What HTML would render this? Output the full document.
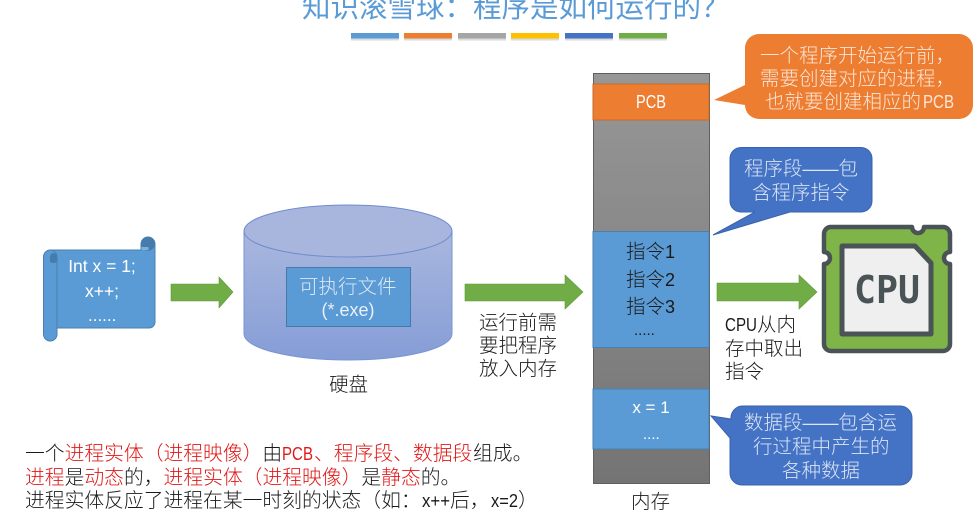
<!DOCTYPE html>
<html><head><meta charset="utf-8">
<style>
html,body{margin:0;padding:0;background:#fff;width:979px;height:519px;overflow:hidden}
svg{display:block}
text{font-family:"Liberation Sans","Noto Sans CJK SC",sans-serif;font-weight:300;text-spacing-trim:space-all;font-kerning:none}
.w{fill:#fff}.k{fill:#1a1a1a}.r{fill:#e01818}
</style></head><body>
<svg width="979" height="519" viewBox="0 0 979 519" xmlns="http://www.w3.org/2000/svg">
<defs>
<linearGradient id="cyl" x1="0" y1="0" x2="0" y2="1"><stop offset="0" stop-color="#a9b7de"/><stop offset="1" stop-color="#859dd6"/></linearGradient>
<linearGradient id="mem" x1="0" y1="0" x2="0" y2="1"><stop offset="0" stop-color="#979797"/><stop offset="1" stop-color="#747474"/></linearGradient>
</defs>
<text x="302" y="17" font-size="28.500" fill="#5b9bd5" style="font-weight:400">知识滚雪球：程序是如何运行的？</text>
<g>
<rect x="351" y="34.500" width="48" height="6" fill="#ccc" opacity=".7"/><rect x="404" y="34.500" width="48" height="6" fill="#ccc" opacity=".7"/><rect x="458" y="34.500" width="48" height="6" fill="#ccc" opacity=".7"/><rect x="511" y="34.500" width="48" height="6" fill="#ccc" opacity=".7"/><rect x="565" y="34.500" width="48" height="6" fill="#ccc" opacity=".7"/><rect x="619" y="34.500" width="48" height="6" fill="#ccc" opacity=".7"/>
<rect x="351" y="33" width="48" height="5.500" fill="#5b9bd5"/><rect x="404" y="33" width="48" height="5.500" fill="#ed7d31"/><rect x="458" y="33" width="48" height="5.500" fill="#a5a5a5"/><rect x="511" y="33" width="48" height="5.500" fill="#ffc000"/><rect x="565" y="33" width="48" height="5.500" fill="#4472c4"/><rect x="619" y="33" width="48" height="5.500" fill="#70ad47"/>
</g>
<!-- scroll -->
<path d="M50 250 H141 V244 a7 7 0 0 1 14 0 V322 a6 6 0 0 1 -6 6 H50 Z" fill="#5b9bd5" stroke="#4a80b0" stroke-width="1"/>
<rect x="43.500" y="250" width="13.500" height="91" rx="6.750" fill="#5b9bd5" stroke="#4a80b0" stroke-width="1"/>
<circle cx="148" cy="244" r="6.800" fill="#457cab"/>
<rect x="141.500" y="247" width="7" height="3" fill="#7fb0dc"/>
<path d="M50 257 a3.500 4 0 0 1 7 0 V262 a6 5 0 0 1 -7 0 Z" fill="#457cab"/>
<text x="102" y="272" text-anchor="middle" font-size="17.500" class="w">Int x = 1;</text>
<text x="102" y="297" text-anchor="middle" font-size="17.500" class="w">x++;</text>
<text x="88" y="321" font-size="17" class="w">......</text>
<!-- arrows -->
<polygon points="171,284 219,284 219,277 233,292 219,308 219,301 171,301" fill="#70ad47" stroke="#5f9a3a" stroke-width=".6"/>
<polygon points="465,284 565,284 565,275 583,292 565,309 565,301 465,301" fill="#70ad47" stroke="#5f9a3a" stroke-width=".6"/>
<polygon points="717,283 799,283 799,275 817,292 799,309 799,301 717,301" fill="#70ad47" stroke="#5f9a3a" stroke-width=".6"/>
<!-- cylinder -->
<path d="M244 231 V334 A104 26 0 0 0 452 334 V231 Z" fill="url(#cyl)" stroke="#7a94d2" stroke-width="1"/>
<ellipse cx="348" cy="231" rx="104" ry="26" fill="#a8b6dd" stroke="#6f8ccf" stroke-width="1"/>
<rect x="286.500" y="267.500" width="124" height="59" fill="#5b9bd5" stroke="#4678a8" stroke-width="1"/>
<text x="299" y="293" font-size="19.500" fill="#dbe8f5">可执行文件</text>
<text x="348" y="316" text-anchor="middle" font-size="18" fill="#e8f0f8">(*.exe)</text>
<text x="329" y="391" font-size="19.500" class="k">硬盘</text>
<text x="479" y="329" font-size="19.500" class="k">运行前需</text>
<text x="479" y="352" font-size="19.500" class="k">要把程序</text>
<text x="479" y="375" font-size="19.500" class="k">放入内存</text>
<!-- memory -->
<rect x="593.500" y="73.500" width="116" height="410" fill="url(#mem)" stroke="#606060" stroke-width="1"/>
<rect x="593" y="84" width="116" height="36" fill="#ed7d31" stroke="#c96a28" stroke-width="1"/>
<text x="636" y="108" font-size="18" class="w" textLength="30" lengthAdjust="spacingAndGlyphs">PCB</text>
<rect x="593" y="231.500" width="116" height="116" fill="#5b9bd5" stroke="#4a80b0" stroke-width="1"/>
<text x="626" y="258" font-size="19.500" class="k">指令<tspan font-size="18">1</tspan></text>
<text x="626" y="286" font-size="19.500" class="k">指令<tspan font-size="18">2</tspan></text>
<text x="626" y="313" font-size="19.500" class="k">指令<tspan font-size="18">3</tspan></text>
<text x="634" y="335" font-size="15" class="k">.....</text>
<rect x="593" y="389" width="116" height="60" fill="#5b9bd5" stroke="#4a80b0" stroke-width="1"/>
<text x="651" y="413" text-anchor="middle" font-size="17" class="w">x = 1</text>
<text x="643" y="439" font-size="15" class="w">....</text>
<text x="631" y="508" font-size="19.500" class="k">内存</text>
<!-- callouts -->
<path d="M759 34 H959 a14 14 0 0 1 14 14 V105 a14 14 0 0 1 -14 14 H759 a14 14 0 0 1 -14 -14 L714 100 L745 85 V48 a14 14 0 0 1 14 -14 Z" fill="#ed7d31"/>
<text x="760" y="62" font-size="19.500" fill="#fbe6d8">一个程序开始运行前，</text>
<text x="760" y="85" font-size="19.500" fill="#fbe6d8">需要创建对应的进程，</text>
<text x="765" y="108" font-size="19.500" fill="#fbe6d8">也就要创建相应的</text>
<text x="923" y="108" font-size="18" fill="#fbe6d8" textLength="31" lengthAdjust="spacingAndGlyphs">PCB</text>
<path d="M741 147.500 H861 a11 11 0 0 1 11 11 V201 a11 11 0 0 1 -11 11 H790 L713 235 L755 212 H741 a11 11 0 0 1 -11 -11 V158.500 a11 11 0 0 1 11 -11 Z" fill="#4472c4" stroke="#3a63ad" stroke-width="1"/>
<text x="744" y="175" font-size="19.500" fill="#dbe5f5">程序段<tspan font-size="18">——</tspan>包</text>
<text x="752" y="199" font-size="19.500" fill="#dbe5f5">含程序指令</text>
<path d="M742 406 H900 a12 12 0 0 1 12 12 V473 a12 12 0 0 1 -12 12 H742 a12 12 0 0 1 -12 -12 V438 L711 416 L731 419 a12 12 0 0 1 11 -13 Z" fill="#4472c4" stroke="#3a63ad" stroke-width="1"/>
<text x="744" y="429" font-size="19.500" fill="#dbe5f5">数据段<tspan font-size="18">——</tspan>包含运</text>
<text x="753" y="453" font-size="19.500" fill="#dbe5f5">行过程中产生的</text>
<text x="782" y="477" font-size="19.500" fill="#dbe5f5">各种数据</text>
<text x="725" y="331" font-size="18" class="k" textLength="32" lengthAdjust="spacingAndGlyphs">CPU</text>
<text x="757" y="331" font-size="19.500" class="k">从内</text>
<text x="725" y="355" font-size="19.500" class="k">存中取出</text>
<text x="725" y="378" font-size="19.500" class="k">指令</text>
<!-- CPU icon -->
<path d="M830 227 H912 a6 6 0 0 0 12 0 H943 a7 7 0 0 1 7 7 V252 a6 6 0 0 0 0 12 V344 a7 7 0 0 1 -7 7 H831 a7 7 0 0 1 -7 -7 V264 a6 6 0 0 0 0 -12 V234 a7 7 0 0 1 6 -7 Z" fill="#7fb548" stroke="#4a5356" stroke-width="4.500" stroke-linejoin="round"/>
<path d="M842 246 H915 L931 263 V334 H842 Z" fill="#efefef" stroke="#4a5356" stroke-width="5" stroke-linejoin="round"/>
<text x="887" y="303" text-anchor="middle" font-size="38" fill="#4a5356" style="font-family:'DejaVu Sans Mono','Liberation Mono',monospace;font-weight:700" textLength="66" lengthAdjust="spacingAndGlyphs">CPU</text>
<!-- notes -->
<text x="25" y="460" font-size="19.800" class="k">一个<tspan class="r">进程实体（进程映像）</tspan>由</text>
<text x="282" y="460" font-size="18" class="r" textLength="31" lengthAdjust="spacingAndGlyphs">PCB</text>
<text x="314" y="460" font-size="19.800" class="r">、程序段、数据段</text>
<text x="473" y="460" font-size="19.800" class="k">组成。</text>
<text x="25" y="484" font-size="19.800" class="k"><tspan class="r">进程</tspan>是<tspan class="r">动态</tspan>的，<tspan class="r">进程实体（进程映像）</tspan>是<tspan class="r">静态</tspan>的。</text>
<text x="25" y="507" font-size="19.800" class="k">进程实体反应了进程在某一时刻的状态（如：</text>
<text x="422" y="507" font-size="18" class="k" textLength="28" lengthAdjust="spacingAndGlyphs">x++</text>
<text x="450" y="507" font-size="19.800" class="k">后，</text>
<text x="491" y="507" font-size="18" class="k" textLength="27" lengthAdjust="spacingAndGlyphs">x=2</text>
<text x="518" y="507" font-size="19.800" class="k">）</text>
</svg>
</body></html>
